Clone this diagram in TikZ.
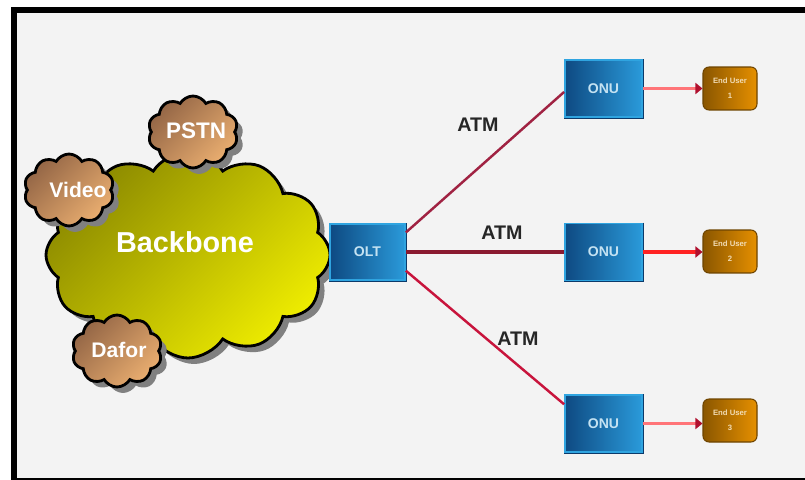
\documentclass[tikz,border=0pt]{standalone}
\usepackage{fontspec}
\setmainfont{Liberation Sans}
\usetikzlibrary{shapes.symbols,shadows,arrows.meta,calc}
\definecolor{bgc}{HTML}{F3F3F3}
\definecolor{oliveD}{HTML}{8C8A00}
\definecolor{oliveM}{HTML}{C6C400}
\definecolor{oliveL}{HTML}{EEEC00}
\definecolor{tanD}{HTML}{946646}
\definecolor{tanL}{HTML}{EAAE70}
\definecolor{boxD}{HTML}{0E4A82}
\definecolor{boxL}{HTML}{2A9ADA}
\definecolor{boxEdge}{HTML}{2FA4E0}
\definecolor{boxDark}{HTML}{0B3A6A}
\definecolor{euD}{HTML}{8A5600}
\definecolor{euL}{HTML}{E69000}
\definecolor{euEdge}{HTML}{6E4400}
\definecolor{lnA}{HTML}{A02242}
\definecolor{lnB}{HTML}{8A1A30}
\definecolor{lnC}{HTML}{C8143C}
\definecolor{arrPink}{HTML}{FF7478}
\definecolor{arrRed}{HTML}{FF2222}
\definecolor{tipc}{HTML}{B0102E}
\definecolor{boxtxt}{HTML}{C4E2F2}
\definecolor{eutxt}{HTML}{F2DCB4}
\begin{document}
\begin{tikzpicture}[x=0.05cm,y=-0.05cm,
  bigcloud/.style={cloud, cloud puffs=12, cloud puff arc=115, cloud ignores aspect,
    draw=black, line width=4pt, top color=oliveD, middle color=oliveM, bottom color=oliveL,
    shading angle=45, inner sep=0pt,
    drop shadow={shadow xshift=0.3cm, shadow yshift=-0.3cm, fill=gray, opacity=1}},
  smallcloud/.style={cloud, cloud puffs=10, cloud puff arc=120, cloud ignores aspect,
    draw=black, line width=4pt, top color=tanD, bottom color=tanL,
    shading angle=45, inner sep=0pt, minimum width=4.5cm, minimum height=3.6cm,
    drop shadow={shadow xshift=0.3cm, shadow yshift=-0.3cm, fill=gray, opacity=1}},
  cloudtxt/.style={font=\bfseries, text=white},
  netbox/.style={rectangle, draw=boxEdge, line width=2.5pt, left color=boxD, right color=boxL,
    inner sep=0pt, text=boxtxt, font=\bfseries\fontsize{20}{24}\selectfont,
    append after command={\pgfextra{\draw[boxDark, line width=2.5pt]
      (\tikzlastnode.north east) -- (\tikzlastnode.south east) -- (\tikzlastnode.south west);}}},
  userbox/.style={rectangle, rounded corners=0.3cm, draw=euEdge, line width=1.5pt,
    left color=euD, right color=euL, minimum width=2.7cm, minimum height=2.15cm,
    inner sep=0pt, align=center, text=eutxt, font=\bfseries\fontsize{11}{13}\selectfont},
  atmtxt/.style={font=\bfseries\fontsize{28}{30}\selectfont, text=black!85},
  trunk/.style={line width=3.5pt},
  feed/.style={line width=5pt, -{Triangle[length=0.35cm, width=0.55cm, color=tipc]}}
]
% canvas and frame
\fill[white] (0,0) rectangle (805,480);
\fill[black] (11,7) rectangle (805,480);
\fill[bgc] (17,13) rectangle (805,478);

% backbone cloud and satellites
\node[bigcloud, minimum width=14.2cm, minimum height=10.3cm] (bb) at (188,255) {};
\node[cloudtxt, font=\bfseries\fontsize{41}{44}\selectfont] (bbt) at (185,242) {Backbone};
\node[smallcloud] (pstn) at (193,132) {};
\node[cloudtxt, font=\bfseries\fontsize{32}{34}\selectfont] (pstnt) at (196,131) {PSTN};
\node[smallcloud] (video) at (69,190) {};
\node[cloudtxt, font=\bfseries\fontsize{30}{32}\selectfont] (videot) at (78,190) {Video};
\node[smallcloud] (dafor) at (117,351) {};
\node[cloudtxt, font=\bfseries\fontsize{30}{32}\selectfont] (dafort) at (119,350) {Dafor};

% boxes
\node[netbox, minimum width=3.75cm, minimum height=2.8cm] (olt) at (367.5,252) {OLT};
\node[netbox, minimum width=3.85cm, minimum height=2.85cm] (onu1) at (603.5,88.5) {ONU};
\node[netbox, minimum width=3.85cm, minimum height=2.85cm] (onu2) at (603.5,252) {ONU};
\node[netbox, minimum width=3.85cm, minimum height=2.85cm] (onu3) at (603.5,423.5) {ONU};
\node[userbox] (eu1) at (730,88.5) {End User\\[8pt]1};
\node[userbox] (eu2) at (730,251.5) {End User\\[8pt]2};
\node[userbox] (eu3) at (730,420.5) {End User\\[8pt]3};

% trunks
\draw[trunk, lnA] (olt.27) -- (onu1.185);
\draw[trunk, lnB, line width=5.5pt] (olt.east) -- (onu2.west);
\draw[trunk, lnC] (olt.-26) -- (onu3.154);
\node[atmtxt] (atm1) at (478,125) {ATM};
\node[atmtxt] (atm2) at (502,233) {ATM};
\node[atmtxt] (atm3) at (518,339) {ATM};

% feeds
\draw[feed, arrPink] (onu1.east) -- (onu1.east -| eu1.west);
\draw[feed, arrRed] (onu2.east) -- (onu2.east -| eu2.west);
\draw[feed, arrPink] (onu3.east) -- (onu3.east -| eu3.west);
\end{tikzpicture}
\end{document}
